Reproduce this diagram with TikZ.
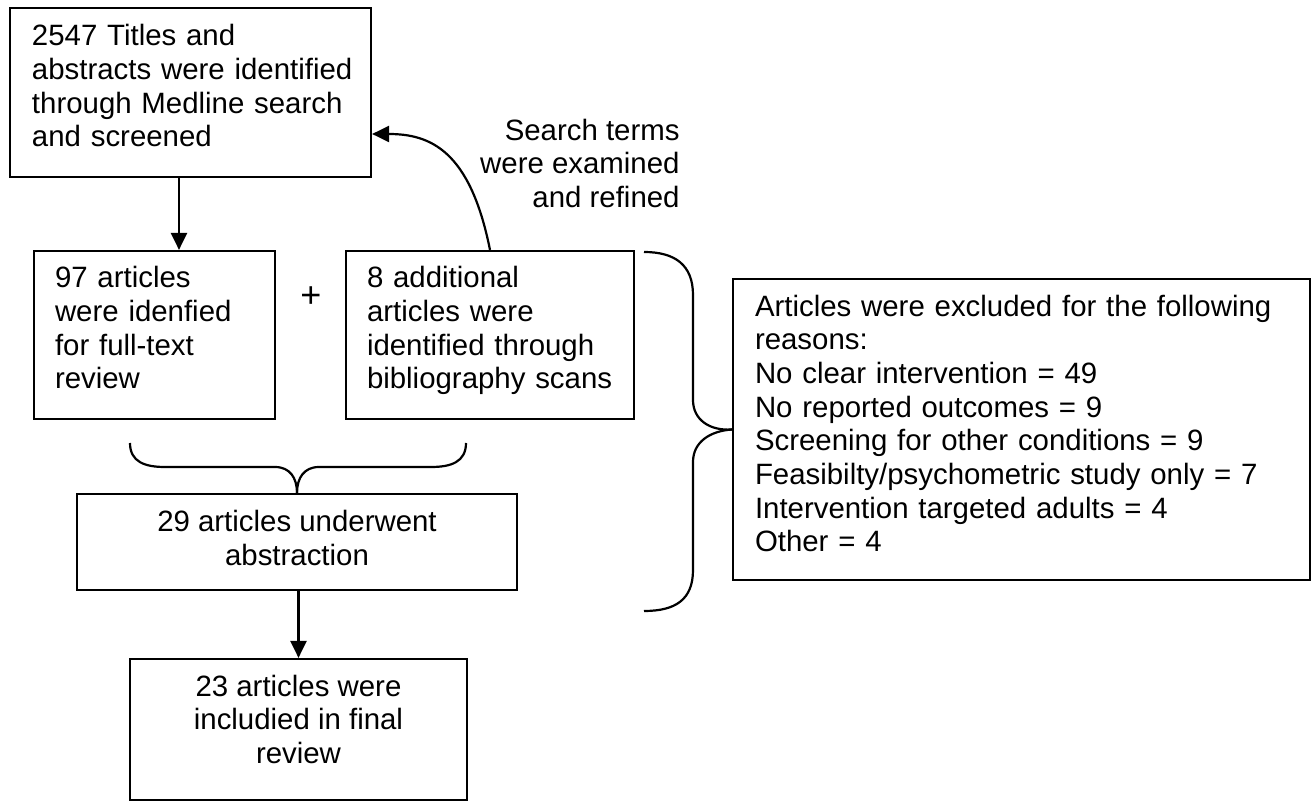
\documentclass[tikz,border=0pt]{standalone}
\usepackage{fontspec}
\setmainfont{Liberation Sans}
\usetikzlibrary{arrows.meta}
\newcommand\fs{\fontsize{14.7pt}{16.85pt}\selectfont}
\newcommand\lastdp[1]{\rule[-#1]{0pt}{0pt}}
\begin{document}
\begin{tikzpicture}[x=0.5pt,y=-0.5pt,
  box/.style={draw, line width=1.1pt, inner ysep=0pt, font=\fs},
  lbox/.style={box, align=left},
  cbox/.style={box, align=center},
  arr/.style={line width=1.1pt, -{Triangle[length=8.5pt,width=8pt]}},
  bracestyle/.style={line width=1.1pt, line join=round}]
\useasboundingbox (0,0) rectangle (1314,802);

\node[lbox, text width=158.5pt, inner xsep=11pt, minimum height=84.5pt] (b1) at (190.5,92.5)
  {\mbox{2547 Titles and}\\\mbox{abstracts were identified}\\\mbox{through Medline search}\\\mbox{and screened}\lastdp{6.7pt}};
\node[lbox, text width=99.5pt, inner xsep=10.5pt, minimum height=84pt] (b2) at (154.5,335)
  {\mbox{97 articles}\\\mbox{were idenfied}\\\mbox{for full-text}\\\mbox{review}\lastdp{7.2pt}};
\node[lbox, text width=123pt, inner xsep=10.5pt, minimum height=84pt] (b3) at (490,335)
  {\mbox{8 additional}\\\mbox{articles were}\\\mbox{identified through}\\\mbox{bibliography scans}\lastdp{7.2pt}};
\node[font=\fontsize{18pt}{20pt}\selectfont, inner sep=0pt] (plus) at (311,297) {+};
\node[cbox, minimum width=220pt, minimum height=48pt] (b4) at (297,542)
  {29 articles underwent\\abstraction\lastdp{4.2pt}};
\node[cbox, minimum width=168.5pt, minimum height=70.5pt] (b5) at (298.5,729.5)
  {23 articles were\\includied in final\\review\lastdp{10.2pt}};
\node[lbox, text width=266.5pt, inner xsep=11pt, minimum height=150.5pt] (b6) at (1021.5,429.5)
  {\mbox{Articles were excluded for the following}\\reasons:\\No clear intervention = 49\\No reported outcomes = 9\\Screening for other conditions = 9\\Feasibilty/psychometric study only = 7\\Intervention targeted adults = 4\\Other = 4\lastdp{6.2pt}};
\node[font=\fs, align=right, anchor=north east, inner sep=0pt] (st) at (680,118.5)
  {Search terms\\were examined\\and refined};

\coordinate (ax) at (179,0);
\coordinate (tgt) at (0,134);
\draw[arr] (b1.south -| ax) -- (b2.north -| ax);
\draw[arr] (b3.north) .. controls (470,150) and (430,134) .. (b1.east |- tgt);
\draw[arr] (b4.south -| b5.north) -- (b5.north);

% lower brace
\draw[bracestyle] (130,443) .. controls (130,462) and (145,467) .. (165,467) -- (275,467)
  .. controls (290,467) and (297,478) .. (b4.north);
\draw[bracestyle] (466,443) .. controls (466,462) and (451,467) .. (431,467) -- (319,467)
  .. controls (304,467) and (297,478) .. (b4.north);
% right brace
\draw[bracestyle] (644,252) .. controls (675,252) and (693,265) .. (693,295) -- (693,400)
  .. controls (693,420) and (710,431) .. (b6.west);
\draw[bracestyle] (b6.west) .. controls (710,431) and (693,442) .. (693,462) -- (693,570)
  .. controls (693,600) and (675,611) .. (644,611);
\end{tikzpicture}
\end{document}
